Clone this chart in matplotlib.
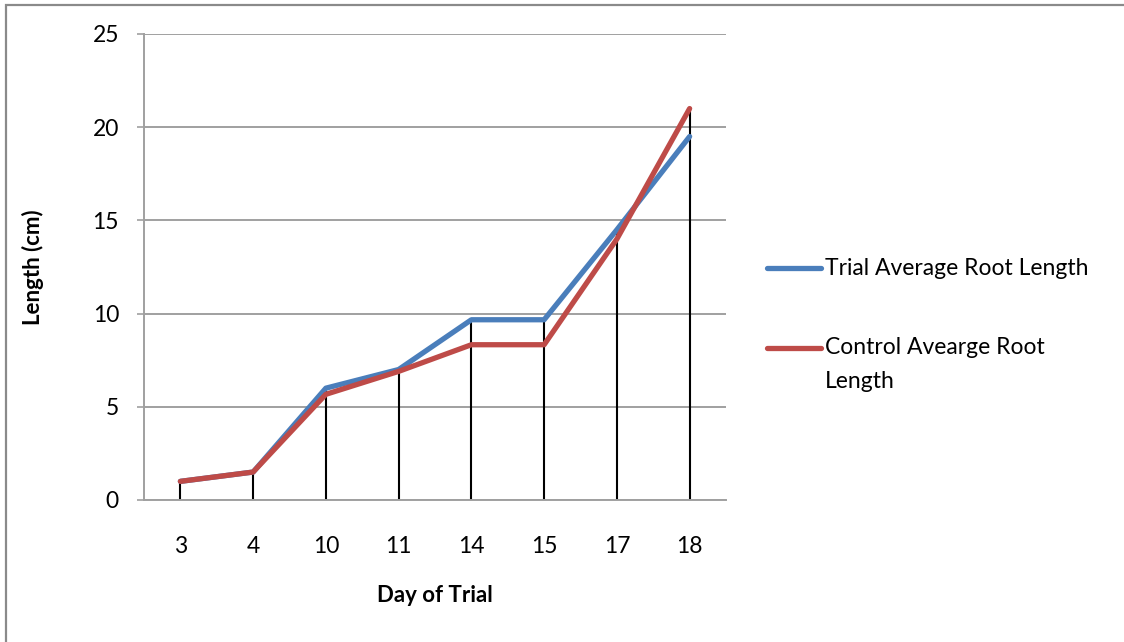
import matplotlib.pyplot as plt
from matplotlib.lines import Line2D
from matplotlib.patches import Rectangle

plt.rcParams['font.family'] = ['Lato', 'DejaVu Sans']

# datos
dias = ['3', '4', '10', '11', '14', '15', '17', '18']
trial = [1.0, 1.5, 6.0, 7.0, 9.67, 9.67, 14.5, 19.5]
control = [1.0, 1.5, 5.67, 6.9, 8.33, 8.33, 14.0, 21.0]
etiquetas = ['Trial Average Root Length', 'Control Avearge Root\nLength']
colores = ['#4a7ebb', '#be4b48']

fig = plt.figure(figsize=(11.24, 6.42), dpi=100)
ax = fig.add_axes([144 / 1124, 1 - 500 / 642, 582 / 1124, 466 / 642])

x = list(range(len(dias)))

# lineas de caida hasta el eje
tope = [max(a, b) for a, b in zip(trial, control)]
ax.vlines(x, 0, tope, color='black', linewidth=1.5, zorder=2)

ax.plot(x, trial, color=colores[0], linewidth=3.8, solid_capstyle='round',
        solid_joinstyle='round', zorder=3)
ax.plot(x, control, color=colores[1], linewidth=3.8, solid_capstyle='round',
        solid_joinstyle='round', zorder=4)

ax.set_xlim(-0.5, len(dias) - 0.5)
ax.set_ylim(0, 25)
ax.set_yticks(range(0, 26, 5))
ax.set_xticks(x)
ax.set_xticklabels(dias)

ax.grid(axis='y', color='#a0a0a0', linewidth=1.4)
ax.set_axisbelow(True)
for lado in ['top', 'right']:
    ax.spines[lado].set_visible(False)
for lado in ['left', 'bottom']:
    ax.spines[lado].set_color('#a0a0a0')
    ax.spines[lado].set_linewidth(1.4)

ax.tick_params(axis='y', length=5, width=1.2, color='#a0a0a0', pad=13,
               labelsize=16.5)
ax.tick_params(axis='x', length=0, pad=26, labelsize=16.5)

fig.text(33 / 1124, 1 - 267 / 642, 'Length (cm)', rotation=90, fontsize=16,
         fontweight='bold', ha='center', va='center')
fig.text(435 / 1124, 1 - 596 / 642, 'Day of Trial', fontsize=16,
         fontweight='bold', ha='center', va='center')

# leyenda manual, cada renglon por separado
for yy, col, txt in zip([268, 348], colores, etiquetas):
    fig.add_artist(Line2D([767 / 1124, 821 / 1124], [1 - yy / 642] * 2,
                          color=col, linewidth=3.8, solid_capstyle='round',
                          transform=fig.transFigure))
    for i, renglon in enumerate(txt.split('\n')):
        fig.text(825 / 1124, 1 - (yy + 33 * i) / 642, renglon, fontsize=16.5,
                 ha='left', va='center')

# borde del area del grafico
fig.add_artist(Rectangle((6.5 / 1124, -0.1), 1.2, (1 - 4.5 / 642) + 0.1,
                         transform=fig.transFigure, fill=False,
                         edgecolor='#8a8a8a', linewidth=1.6))

plt.savefig('out.png')
